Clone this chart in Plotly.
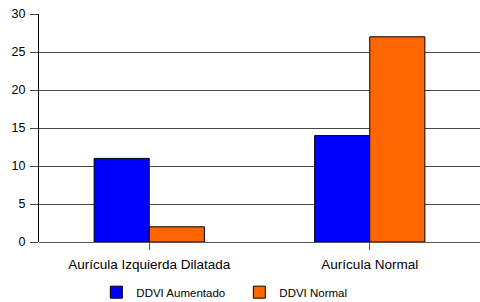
import plotly.graph_objects as go

categories = ["Aurícula Izquierda Dilatada", "Aurícula Normal"]
ddvi_aumentado = [11, 14]
ddvi_normal = [2, 27]
y_ticks = [0, 5, 10, 15, 20, 25, 30]

fig = go.Figure()
fig.add_trace(go.Bar(name="DDVI Aumentado", x=categories, y=ddvi_aumentado,
                     marker=dict(color="#0000FF", line=dict(color="#000000", width=1))))
fig.add_trace(go.Bar(name="DDVI Normal", x=categories, y=ddvi_normal,
                     marker=dict(color="#FF6600", line=dict(color="#000000", width=1))))

fig.update_layout(
    width=480, height=302,
    margin=dict(l=39, r=0, t=14, b=60, autoexpand=False),
    paper_bgcolor="white", plot_bgcolor="white",
    barmode="group", bargap=0.5, bargroupgap=0,
    font=dict(family="Liberation Sans, Arial, sans-serif", size=12, color="#000000"),
    showlegend=True,
    legend=dict(orientation="h", x=0.13, xanchor="left", y=-0.22, yanchor="middle",
                font=dict(size=11.5), bgcolor="rgba(0,0,0,0)",
                entrywidth=98, entrywidthmode="pixels"),
)
fig.update_xaxes(range=[-0.5, 1.5], showgrid=False, showline=False, automargin=False,
                 ticks="outside", ticklen=7, tickcolor="#555555", tickwidth=1,
                 tickfont=dict(size=13.5), ticklabelstandoff=3)
fig.update_yaxes(range=[0, 30], tickvals=y_ticks, showgrid=True, gridcolor="#444444", gridwidth=1,
                 zeroline=True, zerolinecolor="#555555", zerolinewidth=1, automargin=False,
                 showline=True, linecolor="#000000", linewidth=1,
                 ticks="outside", ticklen=8, tickcolor="#444444",
                 tickfont=dict(size=12.5), ticklabelstandoff=2)

fig.write_html("out.html", config={"displayModeBar": False},
               post_script="document.body.style.margin='0px';document.body.style.overflow='hidden';")
